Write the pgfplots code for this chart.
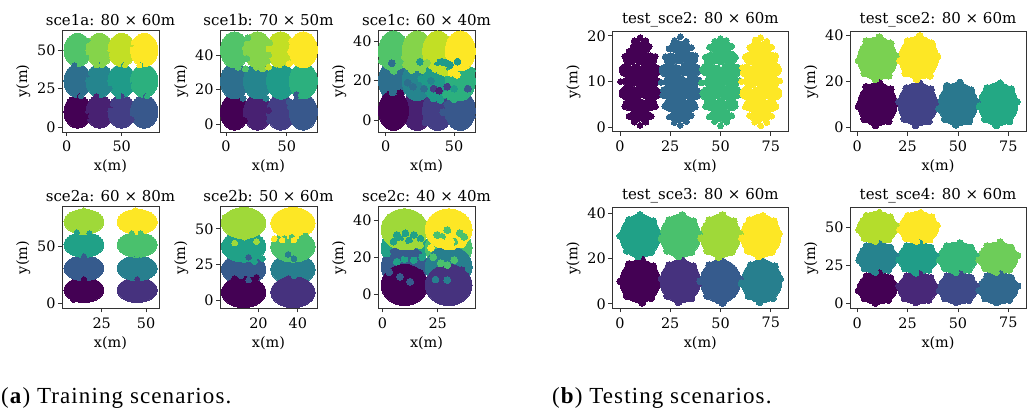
\documentclass[border=0pt]{standalone}
\usepackage{pgfplots}
\pgfplotsset{compat=1.18}
\usepackage{fontspec}
\setmainfont{DejaVu Serif}
\newfontfamily\capfont[LetterSpace=4.8]{Liberation Serif}
\newcommand{\fs}{\fontsize{14.4}{16}\selectfont}
\newcommand{\ft}{\fontsize{15}{17}\selectfont}
\pgfplotsset{
 sub/.style={scale only axis,width=97pt,height=102pt,anchor=south west,
  axis line style={line width=.9pt,black!80},tick style={line width=.8pt,black!80},
  xtick pos=bottom,ytick pos=left,tick align=outside,major tick length=4pt,
  colormap name=viridis,point meta min=0,
  font=\fs,title style={font=\ft,yshift=-5pt},
  xlabel={x(m)},ylabel={y(m)},
  xlabel style={font=\fs,yshift=-1pt},ylabel style={font=\fs,yshift=0pt},
  tick label style={font=\fs},
  /pgf/number format/assume math mode=true,
  xticklabel style={yshift=-1.5pt},yticklabel style={xshift=1pt}},
 core/.style 2 args={scatter,only marks,mark=*,point meta=explicit,mark size=#1pt,
  mark options={xscale=#2,line width=0pt},
  scatter/use mapped color={draw=mapped color,fill=mapped color}},
 dots/.style={scatter,only marks,mark=*,point meta=explicit,mark size=#1pt,
  mark options={line width=0pt},
  scatter/use mapped color={draw=mapped color,fill=mapped color}},
}
\begin{document}
\begin{tikzpicture}
\path[use as bounding box] (0,0) rectangle (1035pt,412pt);
% sce1a
\begin{axis}[sub,at={(62pt,280pt)},title={sce1a: 80 × 60m},xmin=-4.2,xmax=83.9,ymin=-3.2,ymax=63,xtick={0,50},ytick={0,25,50},point meta max=11]
\addplot[core={16.5}{.83}] coordinates {(10,10)[0](30,10)[1](50,10)[2](70.5,10)[3](10,30)[4](30,30)[5](50,30)[6](70.5,30)[7](10,50)[8](30,50)[9](50,50)[10](70.5,50)[11]};
\addplot[dots=2.5] coordinates {(20,7)[0](12,20)[0](22,7)[1](40,14)[1](27,20)[1](42,15)[2](59,5)[2](50,20)[2](57,17)[2](61,13)[3](72,20)[3](19,34)[4](7,40)[4](13,20)[4](22,35)[5](39,25)[5](30,40)[5](37,37)[5](41,33)[6](59,27)[6](52,40)[6](47,20)[6](61,27)[7](67,40)[7](73,20)[7](18,45)[8](19,56)[8](21,53)[9](39,47)[9](32,40)[9](27,40)[9](41,47)[10](59,54)[10](53,40)[10](61,55)[11](66,40)[11]};
\end{axis}
% sce1b
\begin{axis}[sub,at={(220pt,280pt)},title={sce1b: 70 × 50m},xmin=-4.9,xmax=74.8,ymin=-4.5,ymax=54.5,xtick={0,50},ytick={0,20,40},point meta max=11]
\addplot[core={18}{.78}] coordinates {(7,7)[0](26,7)[1](45,7)[2](63.5,7)[3](7,25)[4](26,25)[5](45,25)[6](63.5,25)[7](7,43)[8](26,43)[9](45,43)[10](63.5,43)[11]};
\addplot[dots=3] coordinates {(12,17)[4](14,15)[4](10,18.5)[4](16,44)[9](17,38)[8](18,50)[8](35,40)[9](36,47)[9](34,36)[9](53,42)[11](52,35)[11](54,48)[11](43,35)[10](42,31)[6](48,32)[6](25,33)[9](30,32)[9](10,33)[8](16,32)[8](35,33)[10](26,17)[5](33,15)[5](45,16)[6](58,17)[3](62,17)[7](52,13)[3](53,10)[3](35,8)[1](36,2)[2](0,12)[0](15,2)[0](-1,27)[4](72,28)[7](71,8)[3](71,44)[11](-1,42)[8]};
\end{axis}
% sce1c
\begin{axis}[sub,at={(378pt,280pt)},title={sce1c: 60 × 40m},xmin=-5.7,xmax=65.3,ymin=-5.9,ymax=45.6,xtick={0,50},ytick={0,20,40},point meta max=11]
\addplot[core={20}{.75}] coordinates {(23,5)[1](38,5)[2](54.5,5)[3](5.6,20)[4](23,20)[5](38,20)[6](54.5,20)[7](5.6,35)[8](23,35)[9](38,35)[10](54.5,35)[11](5.6,5)[0]};
\addplot[dots=3.4] coordinates {(4.4,28.8)[4](5.7,25)[8](14,32)[9](19,25.4)[9](26.6,25.4)[9](15,28)[9](17,27)[9](22,27)[9](25,29.6)[6](37.7,29.3)[6](41,29.6)[6](52.5,29.6)[6](47,28)[6](44,29)[6](48,24)[11](52,23)[11](50,24.5)[11](40,25)[10](36,26)[10](43,24)[10](32.8,12.8)[6](35,11)[6](40,10.3)[6](50,10.6)[7](20.4,12.8)[5](24,14)[5](22,11.5)[5](44,13)[7](47,12)[7](5,14)[4](8,15)[4](10.6,13.6)[0](35,16)[2](45,17)[2](39,15)[1](13,2)[0](13,7)[0](30,5)[2](29,-1)[2](32,2)[2](42,4)[3](46,2)[3](45,8)[3](56,12)[7](60,16)[3](20,17)[4](28,16)[4](16,19)[4](33,20)[5](50,16)[6](30,29)[9](35,31)[10](26,21)[6](2,42)[8](-3,30)[8](63,25)[7](63,2)[3]};
\end{axis}
% sce2a
\begin{axis}[sub,at={(62pt,103.7pt)},height=101.6pt,title={sce2a: 60 × 80m},xmin=2.6,xmax=57.3,ymin=-4.4,ymax=84.2,xtick={25,50},ytick={0,50},point meta max=7]
\addplot[core={12.5}{1.6}] coordinates {(15,11.5)[0](15,30.5)[2](15,51)[4](15,71)[6](45,11.5)[1](45,30.5)[3](45,51)[5](45,71)[7]};
\addplot[dots=2.5] coordinates {(15,21)[0](9,3)[0](15,41)[2](18,61)[4](11,62)[4](15,81)[6](45,21)[1](45,41)[3](47,61)[5](42,61)[5](45,42)[5](44,81)[7]};
\end{axis}
% sce2b
\begin{axis}[sub,at={(220pt,103.7pt)},height=101.6pt,title={sce2b: 50 × 60m},xmin=0.5,xmax=49.7,ymin=-5.8,ymax=65.5,xtick={20,40},ytick={0,25,50},point meta max=7]
\addplot[core={15.5}{1.43}] coordinates {(12.5,21.5)[2](37.5,21.5)[3](12.5,37.5)[4](37.5,37.5)[5](12.5,5.5)[0](37.5,5.5)[1](12.5,54)[6](37.5,54)[7]};
\addplot[dots=2.8] coordinates {(13,44)[6](19,41)[6](8,40)[6](9,29)[4](15,30)[2](18,27)[4](22,29)[4](8,15)[0](11,17)[2](15,14)[2](19,16)[0](33,43)[5](37,44)[5](42,43)[5](28,43)[7](32,42)[7](38,42)[7](44,45)[5](37,30)[5](35,32)[3](40,32)[5](38,29)[3](35,15)[1](41,14)[1](38,17)[3](3,58)[6](4,6)[0](47,56)[7](47,5)[1]};
\end{axis}
% sce2c
\begin{axis}[sub,at={(378pt,103.7pt)},height=101.6pt,title={sce2c: 40 × 40m},xmin=-2,xmax=41.9,ymin=-7.5,ymax=47.2,xtick={0,25},ytick={0,20,40},point meta max=7]
\addplot[core={20.5}{1.14}] coordinates {(10,25)[4](30,25)[5](10,15)[2](30,15)[3](10,5)[0](30,5)[1](10,35)[6](30,35)[7]};
\addplot[dots=3.4] coordinates {(6.5,32)[4](8,30)[4](10.4,32.9)[4](14.2,32)[4](5,28.4)[4](17.2,30)[4](12,29)[4](13.4,26)[6](8,27)[6](17,26.5)[6](2,22)[4](6.5,17.6)[4](14.2,18.5)[4](10,19)[4](18,20)[4](11,22)[2](6,23)[2](15,22)[2](6.5,13)[0](9,12.5)[0](11,12)[0](17.2,11.3)[0](14,13)[0](3,12)[2](8,9.5)[2](12.6,6.8)[2](29.4,34.6)[5](24.8,32)[5](37,31)[5](32.5,28.4)[5](35,33)[5](27,31)[5](26.4,28.4)[7](31,28.4)[7](36,27)[7](26.4,23)[3](34,23)[3](30,21)[3](37,20)[3](26.4,16.7)[5](29.4,15.8)[5](32.5,18.5)[5](23,20)[5](29.4,7.7)[3](33,10)[1](26.4,11.3)[1](24,8)[3](36,13)[1](39,14)[3](22,25)[7]};
\end{axis}
% test_sce2 a
\begin{axis}[sub,at={(612.3pt,280.3pt)},width=176pt,height=100pt,title={test\_sce2: 80 × 60m},xmin=-3.8,xmax=83.7,ymin=-1,ymax=20.9,xtick={0,25,50,75},ytick={0,10,20},point meta max=3]
\addplot[dots=6.55] coordinates {(8.5,17.5)[0](12,17.5)[0](5,15)[0](10.3,15.2)[0](15,14.8)[0](3,12.5)[0](8,12.3)[0](13,12.6)[0](17,12.4)[0](5,10)[0](10.8,9.8)[0](16,10.1)[0](3,7.5)[0](8,7.4)[0](13.2,7.6)[0](17,7.5)[0](5,5)[0](10,4.8)[0](15,5.1)[0](8,2.5)[0](12,2.6)[0](28,17.7)[1](32,17.4)[1](25.2,14.8)[1](30,15.3)[1](35.3,15)[1](23,12.4)[1](28.2,12.2)[1](33,12.7)[1](37,12.5)[1](25,10.1)[1](30.5,9.7)[1](36,10)[1](23.2,7.6)[1](28,7.3)[1](33,7.7)[1](37.2,7.4)[1](25,4.9)[1](30.3,5.1)[1](35,4.8)[1](28.2,2.4)[1](32,2.7)[1](48,17.4)[2](52.2,17.6)[2](45,14.9)[2](50.4,15.1)[2](55,15.2)[2](43.2,12.6)[2](48,12.1)[2](53.3,12.5)[2](57,12.3)[2](45.3,9.9)[2](50.7,10.2)[2](56,9.8)[2](43,7.3)[2](48.2,7.6)[2](53,7.4)[2](57,7.7)[2](45.2,5.1)[2](50,4.7)[2](55.2,5)[2](48,2.6)[2](52.1,2.4)[2](68.1,17.6)[3](72,17.4)[3](65,15.1)[3](70.2,14.9)[3](75.1,15)[3](63,12.3)[3](68,12.6)[3](73.2,12.3)[3](77,12.6)[3](65.1,10)[3](70.6,10.1)[3](76,9.9)[3](63.1,7.5)[3](68.2,7.3)[3](73,7.7)[3](77.2,7.4)[3](65,4.9)[3](70.1,5.1)[3](75,4.8)[3](68,2.4)[3](72,2.7)[3]};
\addplot[dots=2.9] coordinates {(19.5,10)[0](18.9,12.9)[0](17.6,15.5)[0](14.5,17.6)[0](12.9,18.9)[0](10,19.6)[0](7.1,18.9)[0](4.5,16.6)[0](2.4,15.5)[0](1.1,12.9)[0](0.3,10)[0](1.1,7.1)[0](2.4,4.5)[0](4.5,2.4)[0](7.1,1.1)[0](10,0.4)[0](12.9,1.1)[0](15.5,2.4)[0](17.6,4.5)[0](18.9,7.1)[0](39.4,10.3)[1](38.8,12.6)[1](37.4,15.6)[1](35.5,17.4)[1](33,18.8)[1](30,19.8)[1](27.2,19)[1](24.4,17.2)[1](22.5,15.4)[1](21,12.8)[1](20.5,9.8)[1](21.2,7)[1](22.3,4.6)[1](24.5,2.2)[1](27,1)[1](30,0.4)[1](33,1.2)[1](35.4,2.5)[1](37.5,4.4)[1](38.9,7.2)[1](59.6,10.2)[2](58.9,13)[2](57.5,15.3)[2](55.6,17.7)[2](52.9,19)[2](50,19.4)[2](47.1,18.8)[2](44.5,17.5)[2](42.4,15.3)[2](41,12.7)[2](40.6,9.7)[2](41.2,7.3)[2](42.5,4.5)[2](44.4,2.3)[2](47,1.2)[2](50,0.3)[2](53,1.1)[2](55.6,2.5)[2](57.4,4.6)[2](59,7)[2](79.5,10.1)[3](78.9,12.7)[3](77.5,15.6)[3](75.4,17.5)[3](73,18.8)[3](70,19.6)[3](67.2,19.1)[3](64.6,17.4)[3](62.3,15.4)[3](61,13)[3](60.5,10)[3](61.1,7.2)[3](62.4,4.4)[3](64.4,2.5)[3](67,1.1)[3](70,0.3)[3](73,1)[3](75.5,2.4)[3](77.6,4.5)[3](78.8,7.1)[3]};
\end{axis}
% test_sce2 b
\begin{axis}[sub,at={(850pt,280.3pt)},width=176pt,height=100pt,title={test\_sce2: 80 × 60m},xmin=-3.6,xmax=83.8,ymin=-2.06,ymax=41.7,xtick={0,25,50,75},ytick={0,20,40},point meta max=5]
\addplot[core={21.5}{.92}] coordinates {(10,10)[0](30,10)[1](50,10)[2](70,10)[3](10,30)[4](30.5,30.3)[5]};
\addplot[dots=3.6] coordinates {(19.2,11)[0](16.5,16.5)[0](11,19.2)[0](4.5,17.5)[0](0.8,9)[0](3.5,3.5)[0](9,0.8)[0](15.5,2.5)[0](39,9)[1](36.5,16.5)[1](31,19)[1](24.5,17)[1](20.8,11)[1](23.5,3.5)[1](29,0.8)[1](35.5,2.5)[1](59.2,11)[2](56.5,16)[2](51,19.4)[2](44.5,18)[2](40.8,8)[2](43.5,3.5)[2](49,1)[2](55.5,2.5)[2](79.2,11)[3](76.5,16.5)[3](71,19)[3](64.5,17)[3](60.8,9)[3](63.5,3.5)[3](69,0.8)[3](75.5,2.5)[3](19,31)[4](16.5,36.5)[4](11,39.2)[4](4.5,37.5)[4](0.8,29)[4](3.5,23.5)[4](9,21)[4](15.5,22.5)[4](39.7,31)[5](37,36.5)[5](31,39.8)[5](25,37.5)[5](21.3,29)[5](24,23.5)[5](29.5,21)[5](36,22.5)[5]};
\end{axis}
% test_sce3
\begin{axis}[sub,at={(612.3pt,103.7pt)},width=176pt,height=100.6pt,title={test\_sce3: 80 × 60m},xmin=-3.8,xmax=83.7,ymin=-2,ymax=42.5,xtick={0,25,50,75},ytick={0,20,40},point meta max=7]
\addplot[core={21.5}{.94}] coordinates {(10,10)[0](30,10)[1](50,10)[2](70.5,10)[3](10,30)[4](30,30)[5](50,30)[6](70,30)[7]};
\addplot[dots=3.6] coordinates {(19.2,11)[0](16.5,16.5)[0](11,19.5)[0](4.5,17.5)[0](0.3,10)[0](3.5,3.5)[0](11,0.5)[0](15.5,2.5)[0](39,9)[1](36.5,16.5)[1](31,19)[1](24.5,17)[1](20.8,11)[1](23.5,3.5)[1](29,0.8)[1](35.5,2.5)[1](59.5,11)[2](56.5,15)[2](51,18.6)[2](44.5,17)[2](40,10)[2](43.5,3.5)[2](49,1.5)[2](51,0.4)[2](79.5,11)[3](77,16.5)[3](71,18.6)[3](65,17)[3](60.5,9)[3](64,3.5)[3](69.5,0.8)[3](76,2.5)[3](19,30)[4](16.5,36.5)[4](10,39.2)[4](4.5,37)[4](0.3,30)[4](3.5,23.5)[4](9,21)[4](15.5,23)[4](39.2,31)[5](36.5,36.5)[5](31,39.2)[5](24.5,37)[5](20.8,29)[5](23.5,23.5)[5](29,21)[5](35.5,23)[5](59.5,31)[6](56.5,36.5)[6](51,39.2)[6](44.5,37)[6](40.5,29)[6](43.5,23.5)[6](49,20.8)[6](55.5,23)[6](79,31)[7](76.5,36.5)[7](71,38.8)[7](64.5,37)[7](60.8,29)[7](63.5,23.5)[7](69,21)[7](75.5,23)[7]};
\end{axis}
% test_sce4
\begin{axis}[sub,at={(850pt,103.7pt)},width=176pt,height=100.6pt,title={test\_sce4: 80 × 60m},xmin=-3.6,xmax=83.8,ymin=-3.3,ymax=63.2,xtick={0,25,50,75},ytick={0,25,50},point meta max=9]
\addplot[core={16}{1.24}] coordinates {(10,10)[0](30,10)[1](50,10)[2](70,10)[3](10,30)[4](30,30)[5](50,30)[6](70,30)[7](10,50)[8](30.5,50)[9]};
\addplot[dots=3.2] coordinates {(19.5,11.5)[0](16.5,17)[0](11,20)[0](4.5,18)[0](0.6,8.5)[0](3.5,3)[0](9,0)[0](15.5,2)[0](39,8.5)[1](36.5,17)[1](31,19.5)[1](24.5,18)[1](20.8,11.5)[1](23.5,3)[1](29,0.5)[1](35.5,2)[1](59.2,11.5)[2](56.5,17)[2](51,19.5)[2](44.5,18)[2](40.8,8.5)[2](43.5,3)[2](49,0.5)[2](55.5,2)[2](79.7,11.5)[3](76.5,17)[3](71,19.5)[3](64.5,18)[3](60.5,8.5)[3](63.5,3)[3](69,0.5)[3](75.5,2)[3](19.2,31.5)[4](16.5,37)[4](11,39.5)[4](4.5,38)[4](0.8,28.5)[4](3.5,23)[4](9,20.5)[4](15.5,22)[4](39.2,31.5)[5](36.5,37)[5](31,40)[5](24.5,38)[5](20.8,28.5)[5](23.5,23)[5](29,20)[5](35.5,22)[5](59.2,31.5)[6](56.5,37)[6](51,40)[6](44.5,38)[6](40.8,28.5)[6](43.5,23)[6](49,20.5)[6](55.5,22)[6](79.7,31.5)[7](76.5,37)[7](71,40.5)[7](64.5,38)[7](60.5,28.5)[7](63.5,23)[7](69,20.5)[7](75.5,22)[7](19.2,51.5)[8](16.5,57)[8](11,60)[8](4.5,58)[8](0.8,48.5)[8](3.5,43)[8](9,41)[8](15.5,42)[8](39.7,51.5)[9](37,57)[9](31.5,60)[9](25,58)[9](21.3,48.5)[9](24,43)[9](29.5,41)[9](36,42)[9]};
\end{axis}
\node[anchor=base west,inner sep=0pt,font=\capfont\fontsize{23}{26}\selectfont] at (1pt,9pt) {(\textbf{a}) Training scenarios.};
\node[anchor=base west,inner sep=0pt,font=\capfont\fontsize{23}{26}\selectfont] at (552pt,9pt) {(\textbf{b}) Testing scenarios.};
\end{tikzpicture}
\end{document}
